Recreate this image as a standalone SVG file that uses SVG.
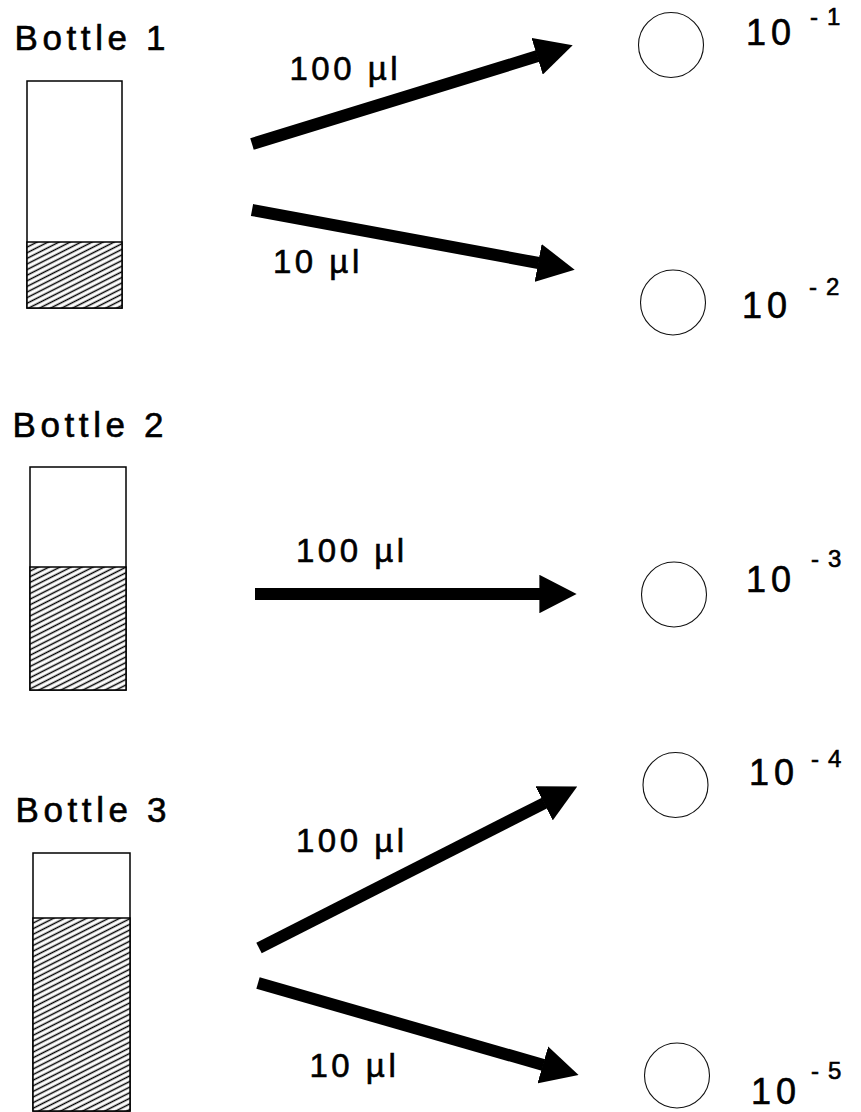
<svg xmlns="http://www.w3.org/2000/svg" width="861" height="1112" viewBox="0 0 861 1112">
<style>
text{font-family:"Liberation Sans",Arial,sans-serif;fill:#000;stroke:#000;stroke-width:0.6}
.lbl{font-size:35px;letter-spacing:4.6px}
.vol{font-size:33px;letter-spacing:3.5px}
.dil{font-size:36px;letter-spacing:5px}
.exp{font-size:24px;letter-spacing:9px}
.bottle{fill:#fff;stroke:#000;stroke-width:1.5}
.liquid{fill:url(#hatch);stroke:#000;stroke-width:1.5}
.plate{fill:#fff;stroke:#111;stroke-width:1.1}
.arrow{stroke:#000;stroke-width:12;fill:none;marker-end:url(#ah)}
</style>
<defs>
<pattern id="hatch" patternUnits="userSpaceOnUse" width="10" height="5" patternTransform="rotate(-27)">
<rect width="10" height="5" fill="#fff"/>
<line x1="0" y1="2.5" x2="10" y2="2.5" stroke="#000" stroke-width="1.5"/>
</pattern>
<marker id="ah" viewBox="0 0 3.1 3.2" markerWidth="3.1" markerHeight="3.2" refX="0.05" refY="1.6" orient="auto" markerUnits="strokeWidth">
<path d="M0,0 L3.1,1.6 L0,3.2 z" fill="#000"/>
</marker>
</defs>
<rect width="861" height="1112" fill="#fff"/>

<g id="bottle1">
<text class="lbl" x="14.5" y="50">Bottle 1</text>
<rect class="bottle" x="27" y="81" width="95" height="227"/>
<rect class="liquid" x="27" y="242" width="95" height="66"/>
</g>
<g id="bottle2">
<text class="lbl" x="12.5" y="437">Bottle 2</text>
<rect class="bottle" x="30" y="467" width="96" height="223"/>
<rect class="liquid" x="30" y="567" width="96" height="123"/>
</g>
<g id="bottle3">
<text class="lbl" x="15.5" y="822">Bottle 3</text>
<rect class="bottle" x="33" y="853" width="97" height="258"/>
<rect class="liquid" x="33" y="918" width="97" height="193"/>
</g>

<g id="plate1">
<circle class="plate" cx="671" cy="45" r="32.5"/>
<text class="dil" x="746" y="45">10</text>
<text class="exp" x="810" y="25">-1</text>
</g>
<g id="plate2">
<circle class="plate" cx="673" cy="302.5" r="32.5"/>
<text class="dil" x="742" y="318">10</text>
<text class="exp" x="809" y="295">-2</text>
</g>
<g id="plate3">
<circle class="plate" cx="674" cy="594.5" r="32.5"/>
<text class="dil" x="746" y="592">10</text>
<text class="exp" x="811" y="567">-3</text>
</g>
<g id="plate4">
<circle class="plate" cx="675.5" cy="785" r="32.5"/>
<text class="dil" x="749" y="785">10</text>
<text class="exp" x="811" y="767">-4</text>
</g>
<g id="plate5">
<circle class="plate" cx="677" cy="1075.5" r="32.5"/>
<text class="dil" x="751" y="1104">10</text>
<text class="exp" x="811" y="1079">-5</text>
</g>

<g id="connectors">
<line class="arrow" x1="252" y1="144" x2="537.7" y2="56.1"/>
<line class="arrow" x1="252" y1="210" x2="538.7" y2="263"/>
<line class="arrow" x1="255" y1="594" x2="540" y2="594"/>
<line class="arrow" x1="259" y1="948" x2="544.6" y2="803"/>
<line class="arrow" x1="258" y1="983" x2="543.4" y2="1065"/>
<text class="vol" x="289.5" y="80">100 µl</text>
<text class="vol" x="273" y="273">10 µl</text>
<text class="vol" x="296" y="562">100 µl</text>
<text class="vol" x="296" y="852">100 µl</text>
<text class="vol" x="309.5" y="1077">10 µl</text>
</g>
</svg>
